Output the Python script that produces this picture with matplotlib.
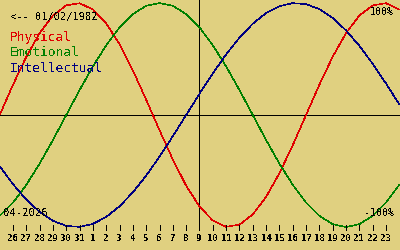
import matplotlib
matplotlib.use("Agg")
import matplotlib.pyplot as plt

# days shown on the axis (March 26 .. April 23), today = April 9
day_labels = ["26", "27", "28", "29", "30", "31", "1", "2", "3", "4", "5", "6", "7",
              "8", "9", "10", "11", "12", "13", "14", "15", "16", "17", "18", "19",
              "20", "21", "22", "23"]
today_index = 14

# curve values from day index -1 to 29 (one point per day)
day_index = list(range(-1, 30))
physical = [0.0, 0.27, 0.52, 0.731, 0.888, 0.979, 0.998, 0.942, 0.817, 0.631, 0.398,
            0.136, -0.136, -0.398, -0.631, -0.817, -0.942, -0.998, -0.979, -0.888,
            -0.731, -0.52, -0.27, 0.0, 0.27, 0.52, 0.731, 0.888, 0.979, 0.998, 0.942]
emotional = [-0.901, -0.782, -0.623, -0.434, -0.223, 0.0, 0.223, 0.434, 0.623, 0.782,
             0.901, 0.975, 1.0, 0.975, 0.901, 0.782, 0.623, 0.434, 0.223, 0.0, -0.223,
             -0.434, -0.623, -0.782, -0.901, -0.975, -1.0, -0.975, -0.901, -0.782, -0.623]
intellectual = [-0.458, -0.618, -0.756, -0.866, -0.945, -0.99, -0.999, -0.972, -0.91,
                -0.815, -0.69, -0.541, -0.372, -0.189, 0.0, 0.189, 0.372, 0.541, 0.69,
                0.815, 0.91, 0.972, 0.999, 0.99, 0.945, 0.866, 0.756, 0.618, 0.458,
                0.282, 0.095]

birth_text = "<-- 01/02/1982"
month_text = "04-2026"

bg = "#e0d080"
mono = "DejaVu Sans Mono"
plt.rcParams["text.antialiased"] = False

fig = plt.figure(figsize=(4, 2.5), dpi=100)
fig.patch.set_facecolor(bg)
ax = fig.add_axes([0, 0, 1, 1])
ax.set_facecolor(bg)
ax.set_axis_off()

# pixel mapping: x = 13 + 13.32*i, y = 115 - 112*v (from top)
px = 13.32
ax.set_xlim(-13 / px, (400 - 13) / px)
ax.set_ylim(-135 / 112, 115 / 112)

lw = 0.6
clw = 0.4
ax.axhline(0, color="black", lw=lw, antialiased=False)
ax.plot([today_index, today_index], [-113 / 112, 115 / 112], color="black", lw=lw,
        antialiased=False)

ax.plot(day_index, physical, color="#e00000", lw=clw, antialiased=False)
ax.plot(day_index, emotional, color="#008000", lw=clw, antialiased=False)
ax.plot(day_index, intellectual, color="#000080", lw=clw, antialiased=False)

# day ticks and labels
for i, lab in enumerate(day_labels):
    ax.plot([i, i], [-110 / 112, -115 / 112], color="black", lw=lw, antialiased=False)
    ax.text(i, -123 / 112, lab, ha="center", va="center", fontsize=6.5,
            family=mono, fontweight="bold")

def ytxt(ypix):
    return (115 - ypix) / 112

x0 = 10 / px - 13 / px
ax.text(x0, ytxt(17), birth_text, fontsize=7.5, family=mono, va="center", ha="left")
ax.text(x0, ytxt(38), "Physical", fontsize=9.3, family=mono,
        color="#e00000", va="center", ha="left")
ax.text(x0, ytxt(53), "Emotional", fontsize=9.3, family=mono,
        color="#008000", va="center", ha="left")
ax.text(x0, ytxt(68), "Intellectual", fontsize=9.3, family=mono,
        color="#000080", va="center", ha="left")
ax.text(394 / px - 13 / px, ytxt(12), "100%", fontsize=7.2, family=mono,
        va="center", ha="right")
ax.text(394 / px - 13 / px, ytxt(213), "-100%", fontsize=7.2, family=mono,
        va="center", ha="right")
ax.text(3 / px - 13 / px, ytxt(213), month_text, fontsize=7.6, family=mono,
        va="center", ha="left")

fig.savefig("out.png", dpi=100, facecolor=bg)
